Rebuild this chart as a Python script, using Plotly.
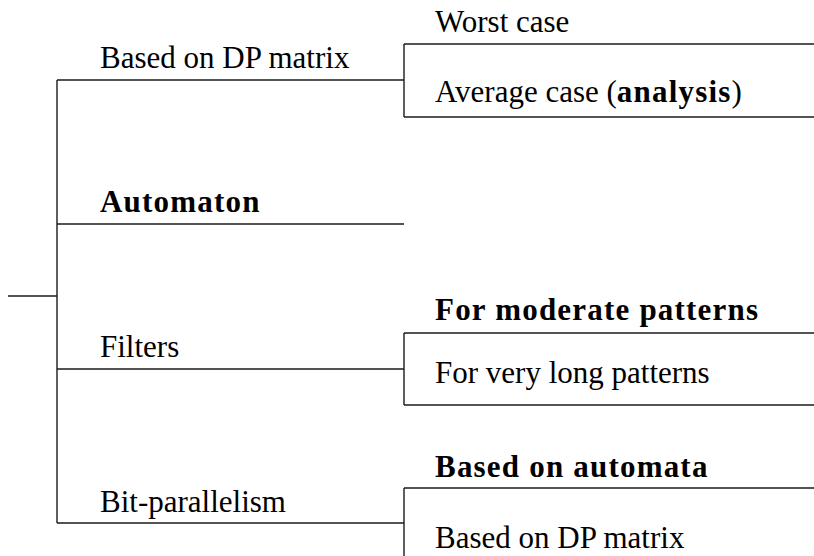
import plotly.graph_objects as go

# ---- data (tree content) ----
B0 = '<b><span style="letter-spacing:1.2px">'
B1 = '</span></b>'
branch_labels = ["Based on DP matrix", B0 + "Automaton" + B1, "Filters", "Bit-parallelism"]
sub_labels = {
    0: ["Worst case", "Average case (" + B0 + "analysis" + B1 + ")"],
    2: [B0 + "For moderate patterns" + B1, "For very long patterns"],
    3: [B0 + "Based on automata" + B1, "Based on DP matrix"],
}

# ---- layout geometry (diagram coordinates, pixel-like units) ----
W, H = 814, 556
root_x0, trunk_x, branch_x1, leaf_x1 = 8, 57, 404, 814
root_y = 296
branch_y = [80, 224, 369, 523]
sub_y = {0: (44, 117), 2: (333, 405), 3: (488, 559)}
branch_text_base = [68, 212, 357, 512]
sub_text_base = {0: (32, 102), 2: (320, 383), 3: (477, 548)}
branch_text_x, sub_text_x = 98, 433
FONT = "Liberation Serif"
FS = 31

xs, ys = [], []
def seg(x0, y0, x1, y1):
    xs.extend([x0, x1, None]); ys.extend([y0, y1, None])

seg(root_x0, root_y, trunk_x, root_y)
seg(trunk_x, branch_y[0], trunk_x, branch_y[-1])
for i, by in enumerate(branch_y):
    seg(trunk_x, by, branch_x1, by)
    if i in sub_y:
        y0, y1 = sub_y[i]
        seg(branch_x1, y0, branch_x1, y1)
        seg(branch_x1, y0, leaf_x1, y0)
        seg(branch_x1, y1, leaf_x1, y1)

fig = go.Figure(go.Scatter(x=xs, y=ys, mode="lines",
                           line=dict(color="#1a1a1a", width=1.4),
                           hoverinfo="skip", showlegend=False))

off = 0.33 * FS
ann = []
for i, lab in enumerate(branch_labels):
    ann.append(dict(x=branch_text_x, y=branch_text_base[i] - off, text=lab))
for i, labs in sub_labels.items():
    for lab, b in zip(labs, sub_text_base[i]):
        ann.append(dict(x=sub_text_x, y=b - off, text=lab))
for a in ann:
    a.update(xref="x", yref="y", xanchor="left", yanchor="middle", showarrow=False,
             font=dict(family=FONT, size=FS, color="black"))

fig.update_layout(
    width=W, height=H, margin=dict(l=0, r=0, t=0, b=0),
    paper_bgcolor="white", plot_bgcolor="white",
    xaxis=dict(range=[0, W], visible=False, fixedrange=True),
    yaxis=dict(range=[H, 0], visible=False, fixedrange=True),
    annotations=ann,
)
fig.write_html("out.html", config={"displayModeBar": False},
               post_script="document.body.style.margin='0';document.body.style.overflow='hidden';")
